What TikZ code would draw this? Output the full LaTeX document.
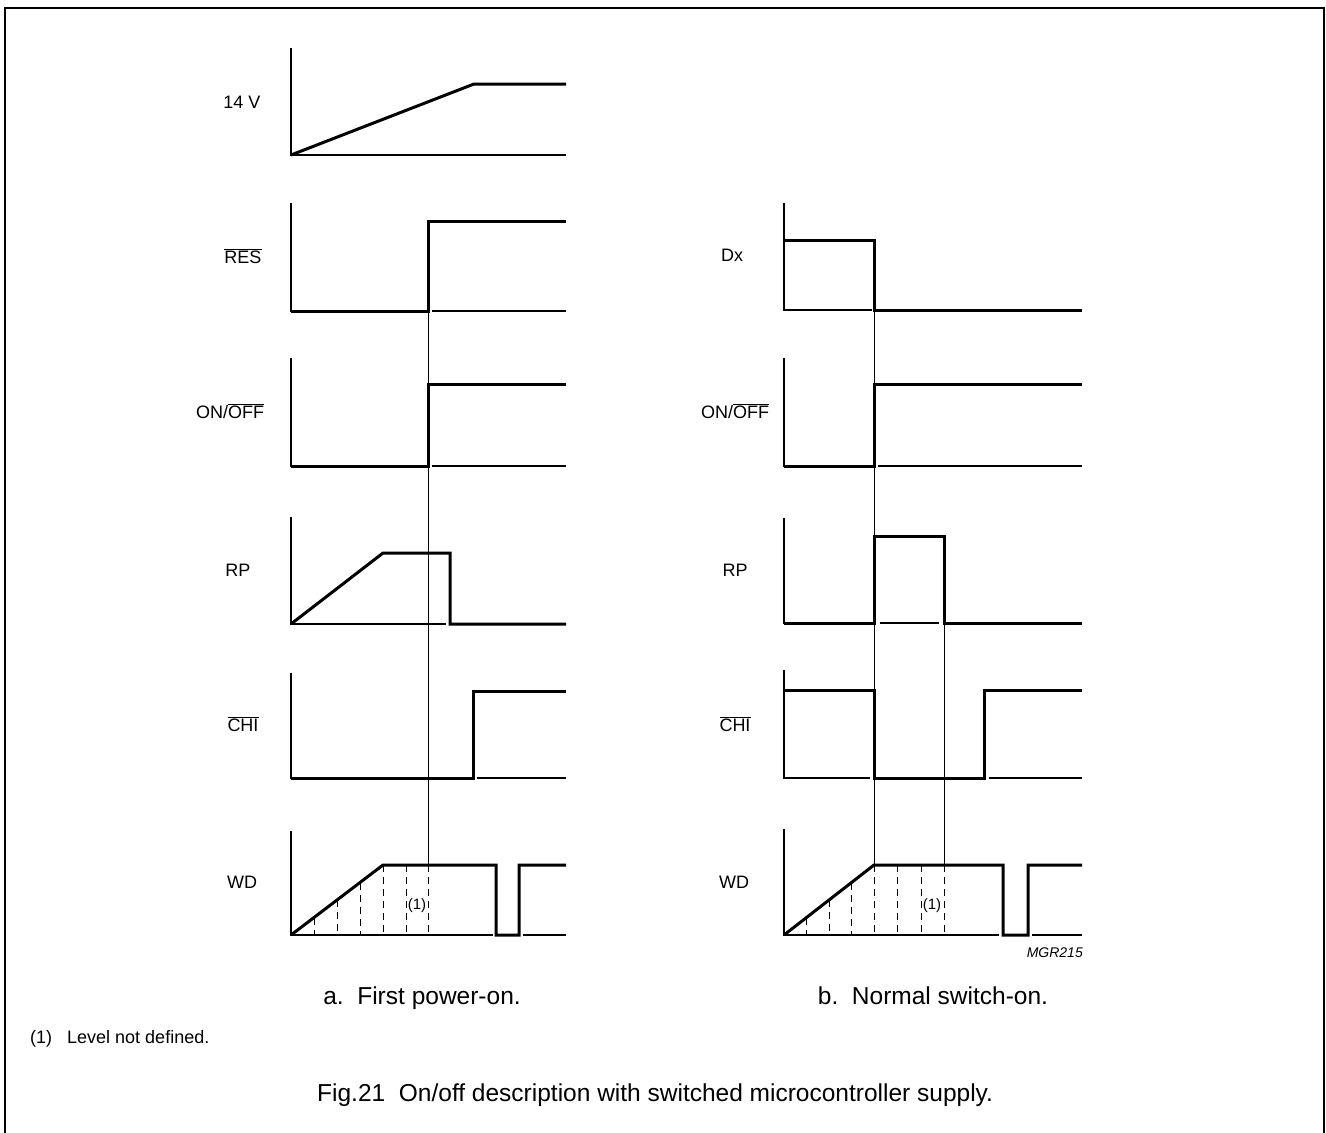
\documentclass[tikz,border=0pt]{standalone}
\usepackage{fontspec}
\setmainfont{Liberation Sans}
\newcommand{\ovl}[1]{$\overline{\mbox{#1}}$}
\begin{document}
\begin{tikzpicture}[x=1pt,y=-1pt,
  sig/.style={line width=3pt, line join=miter, line cap=butt},
  ax/.style={line width=1.2pt},
  guide/.style={line width=1pt},
  dsh/.style={line width=1pt, dash pattern=on 7pt off 5pt},
  lbl/.style={font=\fontsize{18}{21}\selectfont, inner sep=0pt},
  note/.style={font=\fontsize{15}{17}\selectfont, inner sep=0pt},
  captext/.style={font=\fontsize{24.5}{28}\selectfont, inner sep=0pt, anchor=base},
]
\useasboundingbox (0,0) rectangle (1326,1133);
\draw[line width=2pt] (5,1133) -- (5,8) -- (1324,8) -- (1324,1133);

% ---------------- left column ----------------
% 14 V
\draw[ax] (291,48) -- (291,155) -- (566,155);
\draw[sig] (291,155) -- (474,84) -- (566,84);
\node[lbl] (l14) at (242,102) {14 V};
% RES
\draw[ax] (291,203) -- (291,311) -- (428,311);
\draw[ax] (432,311) -- (566,311);
\draw[sig] (291,311) -- (428,311) -- (428,221) -- (566,221);
\node[lbl] (lres) at (243,256) {\ovl{RES}};
% ON/OFF
\draw[ax] (291,358) -- (291,466) -- (428,466);
\draw[ax] (432,466) -- (566,466);
\draw[sig] (291,466) -- (428,466) -- (428,384) -- (566,384);
\node[lbl] (lon) at (230,411) {ON/\ovl{OFF}};
% RP
\draw[ax] (291,517) -- (291,624) -- (446,624);
\draw[sig] (291,624) -- (383,553) -- (450,553) -- (450,624) -- (566,624);
\node[lbl] (lrp) at (238,570) {RP};
% CHI
\draw[ax] (291,673) -- (291,778) -- (473,778);
\draw[ax] (477,778) -- (566,778);
\draw[sig] (291,778) -- (473,778) -- (473,691) -- (566,691);
\node[lbl] (lchi) at (243,724) {\ovl{CHI}};
% WD
\draw[ax] (291,831) -- (291,935) -- (493,935);
\draw[ax] (523,935) -- (566,935);
\draw[dsh] (314,917.5) -- (314,935);
\draw[dsh] (337,900) -- (337,935);
\draw[dsh] (360,882.5) -- (360,935);
\draw[dsh] (383,865) -- (383,935);
\draw[dsh] (406,865) -- (406,935);
\draw[dsh] (428,865) -- (428,935);
\draw[sig] (291,935) -- (383,865) -- (496,865) -- (496,935) -- (519,935) -- (519,865) -- (566,865);
\node[lbl] (lwd) at (242,882) {WD};
\node[note] (lund) at (417,906) {(1)};
% guide
\coordinate (lg1) at (428,311);
\coordinate (lg2) at (428,865);
\draw[guide] (lg1) -- (lg2);

% ---------------- right column ----------------
% Dx
\draw[ax] (784,203) -- (784,310) -- (872,310);
\draw[sig] (784,240) -- (874,240) -- (874,310) -- (1082,310);
\node[lbl] (rdx) at (732,255) {Dx};
% ON/OFF
\draw[ax] (784,358) -- (784,466) -- (874,466);
\draw[ax] (878,466) -- (1082,466);
\draw[sig] (784,466) -- (874,466) -- (874,384) -- (1082,384);
\node[lbl] (ron) at (735,411) {ON/\ovl{OFF}};
% RP
\draw[ax] (784,518) -- (784,623) -- (874,623);
\draw[ax] (880,623) -- (939,623);
\draw[sig] (784,623) -- (874,623) -- (874,536) -- (944,536) -- (944,623) -- (1082,623);
\node[lbl] (rrp) at (735,570) {RP};
% CHI
\draw[ax] (784,670) -- (784,778) -- (870,778);
\draw[ax] (989,778) -- (1082,778);
\draw[sig] (784,690) -- (874,690) -- (874,778) -- (984,778) -- (984,690) -- (1082,690);
\node[lbl] (rchi) at (735,724) {\ovl{CHI}};
% WD
\draw[ax] (784,829) -- (784,935) -- (999,935);
\draw[ax] (1032,935) -- (1082,935);
\draw[dsh] (806.5,917.5) -- (806.5,935);
\draw[dsh] (829,900) -- (829,935);
\draw[dsh] (851.5,882.5) -- (851.5,935);
\draw[dsh] (874,865) -- (874,935);
\draw[dsh] (897,865) -- (897,935);
\draw[dsh] (921,865) -- (921,935);
\draw[dsh] (944,865) -- (944,935);
\draw[sig] (784,935) -- (874,865) -- (1003,865) -- (1003,935) -- (1028,935) -- (1028,865) -- (1082,865);
\node[lbl] (rwd) at (734,882) {WD};
\node[note] (rund) at (932,906) {(1)};
\node[inner sep=0pt, anchor=east, font=\fontsize{14}{16}\selectfont\itshape] (mgr) at (1083,953) {MGR215};
% guides
\coordinate (rg1) at (874,310);
\coordinate (rg2) at (874,865);
\coordinate (rg3) at (944,623);
\coordinate (rg4) at (944,865);
\draw[guide] (rg1) -- (rg2);
\draw[guide] (rg3) -- (rg4);

% ---------------- captions ----------------
\node[captext] (capa) at (422,1004) {a.\ \ First power-on.};
\node[captext] (capb) at (933,1004) {b.\ \ Normal switch-on.};
\node[inner sep=0pt, anchor=base west, font=\fontsize{18}{20}\selectfont] (foot) at (30,1043) {(1)\ \ \ Level not defined.};
\node[captext, anchor=base west] (fig) at (317,1101) {Fig.21\ \ On/off description with switched microcontroller supply.};
\end{tikzpicture}
\end{document}
